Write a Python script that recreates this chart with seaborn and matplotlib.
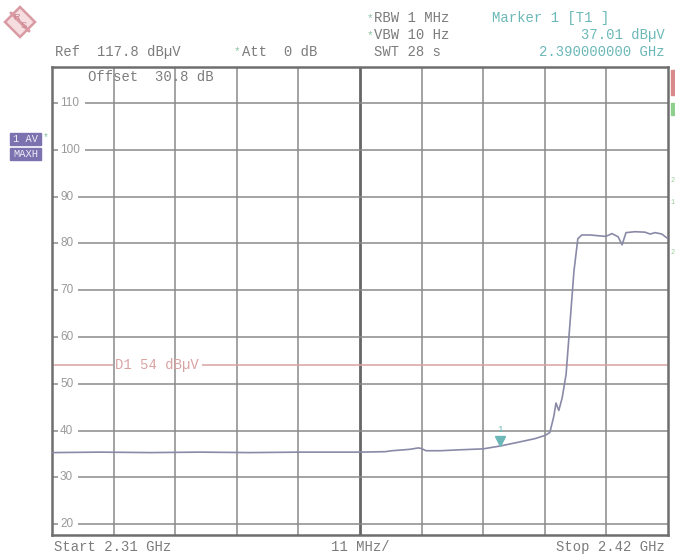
import numpy as np
import pandas as pd
import matplotlib
matplotlib.use("Agg")
import matplotlib.pyplot as plt
from matplotlib.patches import Polygon, Rectangle
import seaborn as sns

# ---------------- data ----------------
freq_mhz = [2310.0, 2318.6, 2327.5, 2336.4, 2345.4, 2354.3, 2361.4, 2365.0,
            2369.5, 2370.7, 2373.9, 2375.4, 2375.9, 2376.8, 2379.3, 2382.9,
            2387.0, 2390.0, 2393.6, 2396.3, 2398.1, 2398.9, 2399.6, 2400.0,
            2400.5, 2401.1, 2401.8, 2402.5, 2403.2, 2403.9, 2404.6, 2406.1,
            2407.9, 2408.9, 2410.0, 2411.1, 2411.8, 2412.5, 2414.1, 2415.9,
            2416.8, 2417.7, 2418.9, 2420.0]
level_dbuv = [35.3, 35.4, 35.3, 35.4, 35.3, 35.4, 35.4, 35.4,
              35.5, 35.7, 36.0, 36.3, 36.2, 35.7, 35.7, 35.9,
              36.1, 36.7, 37.6, 38.3, 39.0, 39.6, 43.0, 45.9,
              44.3, 47.0, 52.0, 63.0, 74.0, 81.0, 81.8, 81.8,
              81.6, 81.5, 82.1, 81.4, 79.7, 82.3, 82.5, 82.4,
              82.0, 82.3, 82.0, 81.0]

y_grid_values = [20, 30, 40, 50, 60, 70, 80, 90, 100, 110]
y_grid_labels = ["20", "30", "40", "50", "60", "70", "80", "90", "100", "110"]

ref_level = 117.8
start_ghz, stop_ghz = 2.31, 2.42
span_per_div_mhz = 11
display_line = 54
marker_freq_ghz = 2.39
marker_level = 37.01

header_left = ["Ref  117.8 dB\u00b5V", "Att  0 dB"]
header_mid = ["RBW 1 MHz", "VBW 10 Hz", "SWT 28 s"]
marker_texts = ["Marker 1 [T1 ]", "37.01 dB\u00b5V", "2.390000000 GHz"]

df = pd.DataFrame({"freq": np.array(freq_mhz) / 1000.0, "level": level_dbuv})

# ---------------- style ----------------
sns.set_style("white")
plt.rcParams["font.family"] = ["Liberation Mono", "DejaVu Sans"]

W, H = 675, 556
fig = plt.figure(figsize=(W / 100, H / 100), dpi=100)
L, R, T, B = 52, 668, 66.5, 534.5
ax = fig.add_axes([L / W, 1 - B / H, (R - L) / W, (B - T) / H])

GRID = "#8a8a8a"
TXT = "#7c7c7c"
TEAL = "#6cb8b8"
PINK = "#d9a3a3"
TRACE = "#8a8aa8"

ax.set_xlim(start_ghz, stop_ghz)
ax.set_ylim(ref_level - 100, ref_level)
ax.set_xticks([])
ax.set_yticks([])
for s in ax.spines.values():
    s.set_color("#6e6e6e")
    s.set_linewidth(1.8)

# vertical grid
step = span_per_div_mhz / 1000.0
for k in range(1, 10):
    xv = start_ghz + k * step
    ax.axvline(xv, color="#666666" if k == 5 else GRID,
               lw=2.0 if k == 5 else 1.1, zorder=1)

# horizontal grid with label gaps
px2ghz = (stop_ghz - start_ghz) / (R - L)
for v, lab in zip(y_grid_values, y_grid_labels):
    ax.hlines(v, start_ghz, start_ghz + 6 * px2ghz, color=GRID, lw=1.1, zorder=1)
    gap_end = start_ghz + (33 if len(lab) == 3 else 26) * px2ghz
    ax.hlines(v, gap_end, stop_ghz, color=GRID, lw=1.1, zorder=1)
    ax.text(start_ghz + 8 * px2ghz, v, lab, fontsize=8.5, color="#9a9a9a",
            family="Liberation Sans", va="center", ha="left")

# display line D1
ax.hlines(display_line, start_ghz, start_ghz + 61 * px2ghz, color=PINK, lw=1.1, zorder=2)
ax.hlines(display_line, start_ghz + 150 * px2ghz, stop_ghz, color=PINK, lw=1.1, zorder=2)
ax.text(start_ghz + 63 * px2ghz, display_line, "D1 54 dB\u00b5V", fontsize=10,
        color=PINK, va="center", ha="left")

# trace
sns.lineplot(data=df, x="freq", y="level", ax=ax, color=TRACE, lw=1.2,
             zorder=3, legend=False)
ax.set_xlabel("")
ax.set_ylabel("")

# marker
ax.plot([marker_freq_ghz], [marker_level + 0.8], marker="v", color=TEAL,
        markersize=6.5, zorder=4)
ax.text(marker_freq_ghz, marker_level + 3.3, "1", fontsize=6.5, color=TEAL,
        ha="center", va="center")

ax.text(start_ghz + 36 * px2ghz, ref_level - 2.3, "Offset  30.8 dB", fontsize=10,
        color=TXT, va="center", ha="left")


def fx(x):
    return x / W


def fy(y):
    return 1 - y / H


fs = 10
# header
fig.text(fx(55), fy(52), header_left[0], fontsize=fs, color=TXT, va="center")
fig.text(fx(234), fy(51), "*", fontsize=8, color="#88c0a0", va="center")
fig.text(fx(242), fy(52), header_left[1], fontsize=fs, color=TXT, va="center")
fig.text(fx(367), fy(18), "*", fontsize=8, color="#88c0a0", va="center")
fig.text(fx(367), fy(35), "*", fontsize=8, color="#88c0a0", va="center")
for i, t in enumerate(header_mid):
    fig.text(fx(374), fy(18 + 17 * i), t, fontsize=fs, color=TXT, va="center")
fig.text(fx(492), fy(18), marker_texts[0], fontsize=fs, color=TEAL, va="center")
fig.text(fx(665), fy(35), marker_texts[1], fontsize=fs, color=TEAL, va="center", ha="right")
fig.text(fx(665), fy(52), marker_texts[2], fontsize=fs, color=TEAL, va="center", ha="right")

# footer
fig.text(fx(54), fy(547), "Start 2.31 GHz", fontsize=fs, color=TXT, va="center")
fig.text(fx(331), fy(547), "11 MHz/", fontsize=fs, color=TXT, va="center")
fig.text(fx(665), fy(547), "Stop 2.42 GHz", fontsize=fs, color=TXT, va="center", ha="right")

# trace info boxes
PURP = "#7d72b0"
for y0, lab in [(133, "1 AV"), (148, "MAXH")]:
    fig.patches.append(Rectangle((fx(10), fy(y0 + 12)), 31 / W, 12 / H,
                                 transform=fig.transFigure, color=PURP))
    fig.text(fx(25.5), fy(y0 + 6), lab, fontsize=7.5, color="#f0eef8",
             ha="center", va="center")
fig.text(fx(46), fy(137), "*", fontsize=7, color="#88c0a0", va="center", ha="center")

# right edge indicators
fig.patches.append(Rectangle((fx(671), fy(95)), 4 / W, 25 / H,
                             transform=fig.transFigure, color="#d98a8a"))
fig.patches.append(Rectangle((fx(671), fy(115)), 4 / W, 12 / H,
                             transform=fig.transFigure, color="#8fd08f"))
for yy in (180, 203, 252):
    fig.text(fx(673), fy(yy), "2" if yy != 203 else "1", fontsize=5,
             color="#9ccc9c", ha="center", va="center")

# R&S logo
cx, cy, r = 20, 22, 15
fig.patches.append(Polygon([(fx(cx), fy(cy - r)), (fx(cx + r), fy(cy)),
                            (fx(cx), fy(cy + r)), (fx(cx - r), fy(cy))],
                           closed=True, transform=fig.transFigure,
                           facecolor="#f5dde0", edgecolor="#d99aa3", lw=1.8))
fig.lines.append(plt.Line2D([fx(cx - 9), fx(cx + 9)], [fy(cy - 9), fy(cy + 9)],
                            transform=fig.transFigure, color="#d99aa3", lw=2.2))
fig.text(fx(cx - 4), fy(cy - 4), "R", fontsize=6.5, color="#c9808c", ha="center", va="center",
         family="Liberation Sans")
fig.text(fx(cx + 4), fy(cy + 4), "S", fontsize=6.5, color="#c9808c", ha="center", va="center",
         family="Liberation Sans")

fig.savefig("out.png", dpi=100, facecolor="white")
